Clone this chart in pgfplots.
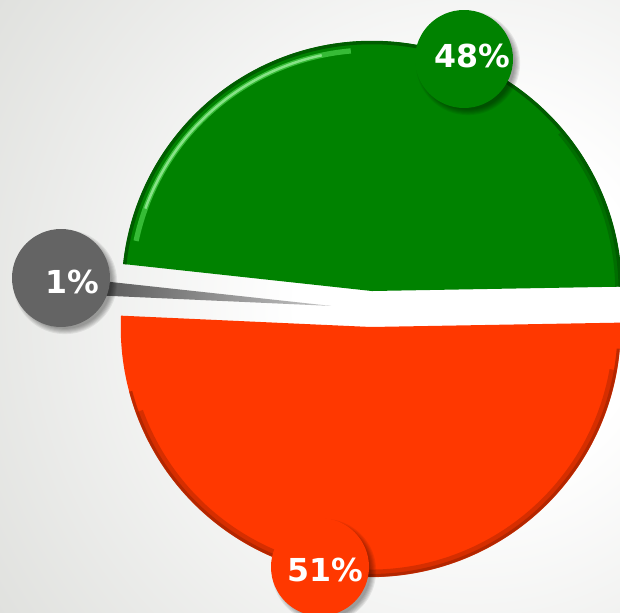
\documentclass[border=0pt]{standalone}
\usepackage{pgfplots}
\pgfplotsset{compat=1.18}
\usepackage{pgfplotstable}
\usepackage{fontspec}
\setmainfont{DejaVu Sans}

\definecolor{pieGreen}{RGB}{0,130,0}
\definecolor{pieGreenDark}{RGB}{0,92,0}
\definecolor{pieGreenLight}{RGB}{90,225,90}
\definecolor{pieRed}{RGB}{255,56,0}
\definecolor{pieRedDark}{RGB}{165,35,0}
\definecolor{pieGray}{RGB}{100,100,100}
\definecolor{bgGray}{RGB}{223,224,221}

\pgfdeclareradialshading{bgshade}{\pgfpoint{0bp}{0bp}}{color(0bp)=(white); color(6bp)=(white); color(20bp)=(bgGray); color(50bp)=(bgGray)}

% share of each slice
\pgfplotstableread{
name  value
green 48
gray  1
red   51
}\piedata

% slice: start angle, end angle, explode, fill style, radius
\newcommand\slice[5]{\pgfplotsextra{%
  \pgfmathsetmacro\sMid{(#1+#2)/2}%
  \pgfmathsetmacro\cx{\Ox+#3*cos(\sMid)}%
  \pgfmathsetmacro\cy{\Oy+#3*sin(\sMid)}%
  \path[#4] (axis cs:\cx,\cy) -- (axis cs:{\cx+(#5)*cos(#1)},{\cy+(#5)*sin(#1)})
    arc[start angle=#1, end angle=#2, radius=(#5)*0.02cm] -- cycle;
}}
% arc along a slice rim: start, end, explode, mid angle, radius, style
\newcommand\rim[6]{\pgfplotsextra{%
  \pgfmathsetmacro\cx{\Ox+#3*cos(#4)}%
  \pgfmathsetmacro\cy{\Oy+#3*sin(#4)}%
  \draw[#6] (axis cs:{\cx+(#5)*cos(#1)},{\cy+(#5)*sin(#1)})
    arc[start angle=#1, end angle=#2, radius=(#5)*0.02cm];
}}
% label bubble: centre x, y, text x, y, colour, text
\newcommand\bubble[6]{\pgfplotsextra{%
  \foreach \k in {1,...,6} {
    \fill[black, opacity=0.07] (axis cs:#1+4,#2-4) circle[radius=0.98cm+0.6pt*\k-1.8pt];
  }
  \fill[#5] (axis cs:#1,#2) circle[radius=0.98cm];
  \node[text=white, font=\bfseries\fontsize{18}{18}\selectfont, inner sep=0pt]
      at (axis cs:#3,#4) {#6};
}}

\begin{document}
\begin{tikzpicture}
\pgfplotstablegetelem{0}{value}\of\piedata \edef\vG{\pgfplotsretval}
\pgfplotstablegetelem{1}{value}\of\piedata \edef\vY{\pgfplotsretval}
\pgfplotstablegetelem{2}{value}\of\piedata \edef\vR{\pgfplotsretval}
\pgfmathsetmacro\aA{1}
\pgfmathsetmacro\aB{\aA+3.6*\vG}
\pgfmathsetmacro\aC{\aB+3.6*\vY}
\pgfmathsetmacro\aD{\aC+3.6*\vR}
\pgfmathsetmacro\gm{(\aA+\aB)/2}
\pgfmathsetmacro\rm{(\aC+\aD)/2}
\def\Ox{371}
\def\Oy{304}
\def\R{250}
\begin{axis}[
    x=0.02cm, y=0.02cm,
    xmin=0, xmax=620, ymin=0, ymax=613,
    hide axis,
]
\pgfplotsextra{%
  \fill[bgGray] (axis cs:0,0) rectangle (axis cs:620,613);
  \shade[shading=bgshade] (axis cs:470,306) circle[radius=14.4cm];
}

% green slice
\slice{\aA}{\aB}{18}{fill=pieGreen}{\R}
\rim{\aA}{\aB}{18}{\gm}{\R-1.5}{pieGreenDark, line width=2pt}
\rim{95}{168}{18}{\gm}{\R-9}{pieGreenLight, line width=3pt, opacity=0.6}
\rim{102}{160}{18}{\gm}{\R-9}{pieGreenLight!60!white, line width=1.4pt, opacity=0.8}
\rim{\aA}{40}{18}{\gm}{\R-4}{pieGreenDark, line width=3pt, opacity=0.5}

% gray slice
\slice{\aB}{\aC}{40}{left color=pieGray!85!black, right color=pieGray!40!white, shading angle=85}{\R}

% red slice
\slice{\aC}{\aD}{18}{fill=pieRed}{\R}
\rim{200}{350}{18}{\rm}{\R-4}{pieRedDark, line width=4pt, opacity=0.45}
\rim{195}{355}{18}{\rm}{\R-1.5}{pieRedDark, line width=1.8pt, opacity=0.7}

% labels
\bubble{464}{554}{472}{557}{pieGreen}{48\%}
\bubble{61}{335}{72}{331}{pieGray}{1\%}
\bubble{320}{46}{325}{43}{pieRed}{51\%}
\end{axis}
\pgfresetboundingbox
\path[use as bounding box] (current axis.south west) rectangle (current axis.north east);
\end{tikzpicture}
\end{document}
